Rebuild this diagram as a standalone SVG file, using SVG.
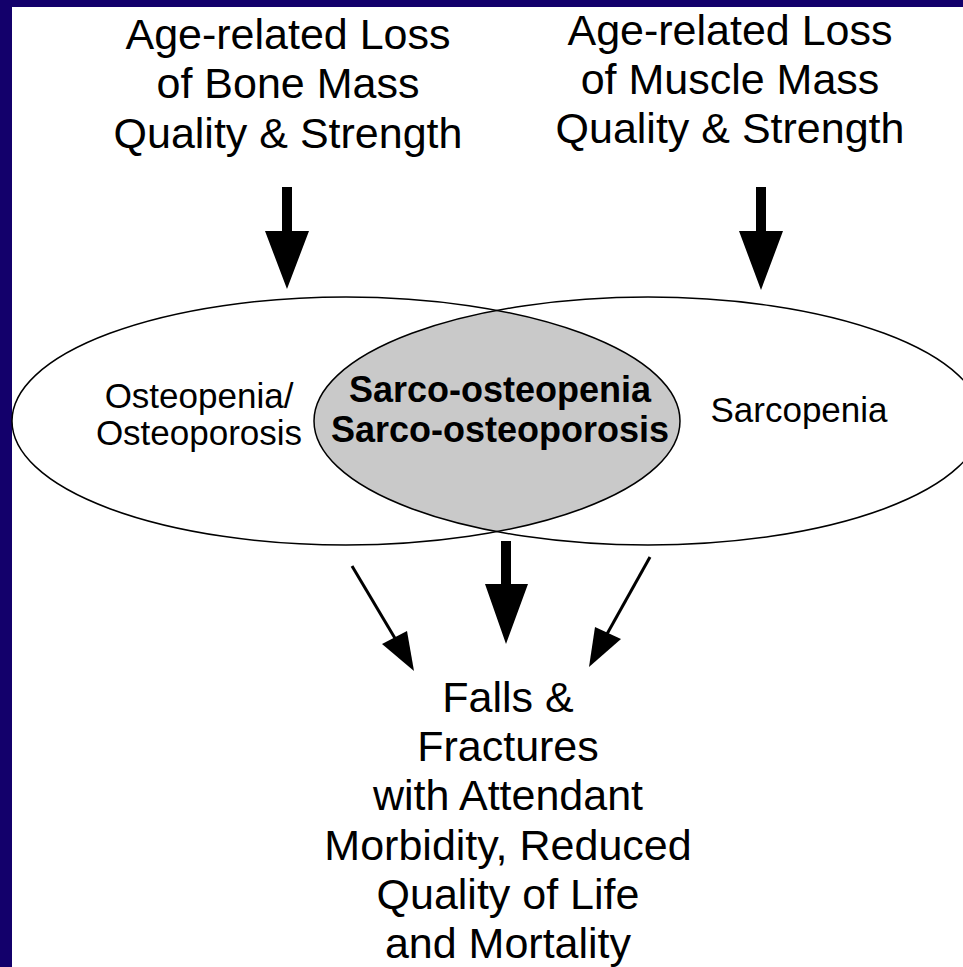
<svg xmlns="http://www.w3.org/2000/svg" width="963" height="967" viewBox="0 0 963 967">
  <defs>
    <style>
      .t { font-family: "Liberation Sans", Arial, sans-serif; fill: #000; text-anchor: middle; }
      .big { font-size: 43px; }
      .mid { font-size: 35px; }
      .bold { font-size: 36px; font-weight: bold; }
      .ell { fill: none; stroke: #000; stroke-width: 1.5; }
      .arr { fill: #000; stroke: none; }
      .thin { stroke: #000; stroke-width: 3; fill: none; }
    </style>
    <clipPath id="clipLeft">
      <ellipse cx="346" cy="421" rx="334" ry="124"/>
    </clipPath>
  </defs>

  <rect x="0" y="0" width="963" height="967" fill="#13006b"/>
  <rect x="12" y="7" width="951" height="960" fill="#ffffff"/>

  <g id="bone-loss">
    <text class="t big" x="288" y="49">Age-related Loss</text>
    <text class="t big" x="288" y="98">of Bone Mass</text>
    <text class="t big" x="288" y="148">Quality &amp; Strength</text>
  </g>

  <g id="muscle-loss">
    <text class="t big" x="730" y="45">Age-related Loss</text>
    <text class="t big" x="730" y="94">of Muscle Mass</text>
    <text class="t big" x="730" y="143">Quality &amp; Strength</text>
  </g>

  <g id="overlap">
    <ellipse cx="648" cy="421" rx="334" ry="124" fill="#c9c9c9" clip-path="url(#clipLeft)"/>
  </g>

  <g id="osteoporosis">
    <ellipse class="ell" cx="346" cy="421" rx="334" ry="124"/>
    <text class="t mid" x="199" y="408">Osteopenia/</text>
    <text class="t mid" x="199" y="445">Osteoporosis</text>
  </g>

  <g id="sarcopenia">
    <ellipse class="ell" cx="648" cy="421" rx="334" ry="124"/>
    <text class="t mid" x="799" y="422">Sarcopenia</text>
  </g>

  <g id="sarco-osteo">
    <text class="t bold" x="500" y="402">Sarco-osteopenia</text>
    <text class="t bold" x="500" y="442">Sarco-osteoporosis</text>
  </g>

  <g id="outcomes">
    <text class="t big" x="508" y="712">Falls &amp;</text>
    <text class="t big" x="508" y="761">Fractures</text>
    <text class="t big" x="508" y="810">with Attendant</text>
    <text class="t big" x="508" y="860">Morbidity, Reduced</text>
    <text class="t big" x="508" y="909">Quality of Life</text>
    <text class="t big" x="508" y="958">and Mortality</text>
  </g>

  <g id="connectors">
    <polygon class="arr" points="282,187 292,187 292,231 309,231 287,289 265,231 282,231"/>
    <polygon class="arr" points="756,187 766,187 766,231 783,231 761,290 739,231 756,231"/>
    <polygon class="arr" points="501,541 511,541 511,584 528,584 506,644 485,584 501,584"/>
    <line class="thin" x1="352" y1="566" x2="396" y2="640"/>
    <polygon class="arr" points="382,644 407,631 414,671"/>
    <line class="thin" x1="650" y1="557" x2="607" y2="634"/>
    <polygon class="arr" points="595,627 621,639 589,667"/>
  </g>
</svg>
